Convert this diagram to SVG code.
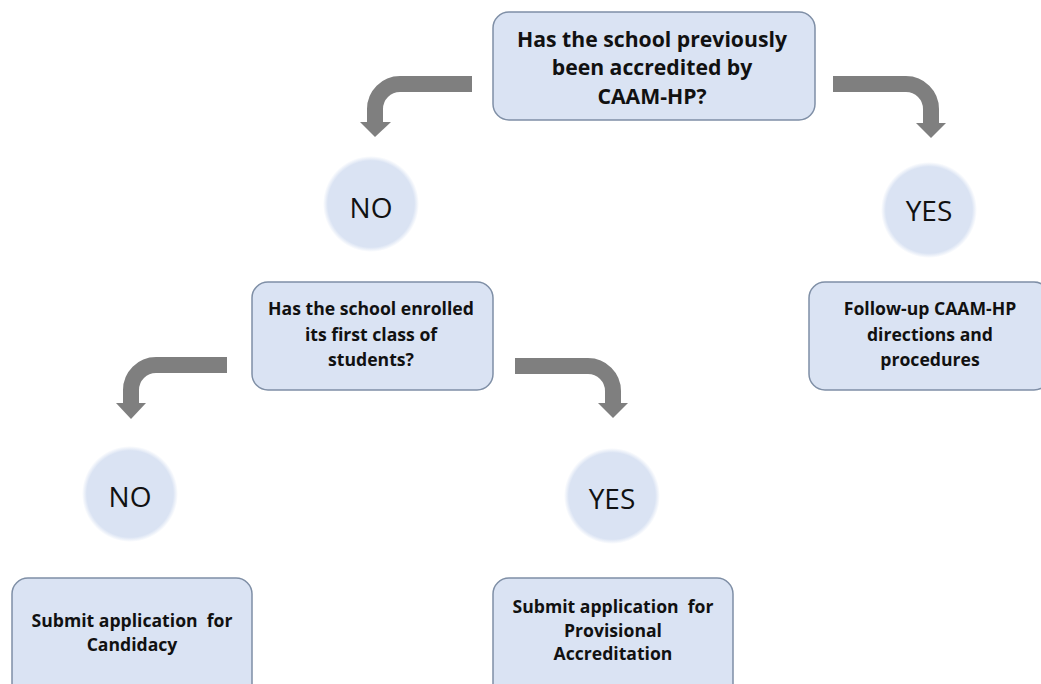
<svg xmlns="http://www.w3.org/2000/svg" width="1041" height="684" viewBox="0 0 1041 684">
<style>
.box{fill:#dae3f3;stroke:#7f8fa6;stroke-width:1.5}
.bt{font-family:"Open Sans","Liberation Sans",sans-serif;font-weight:700;fill:#111;text-anchor:middle}
.ct{font-family:"Open Sans","Liberation Sans",sans-serif;font-weight:400;fill:#111;text-anchor:middle;font-size:28px}
.arr{fill:none;stroke:#7f7f7f;stroke-width:16}
.head{fill:#7f7f7f}
</style>
<defs>
<radialGradient id="cg">
<stop offset="0" stop-color="#dae3f3"/>
<stop offset="0.9" stop-color="#dae3f3"/>
<stop offset="1" stop-color="#dae3f3" stop-opacity="0"/>
</radialGradient>
</defs>
<rect width="1041" height="684" fill="#fff"/>
<g id="connectors">
<path class="arr" d="M472 84 H400 A25 25 0 0 0 375 109 V123"/>
<polygon class="head" points="360,122 391,122 375,137"/>
<path class="arr" d="M833 84 H906 A25 25 0 0 1 931 109 V124"/>
<polygon class="head" points="916,123 946,123 931,138"/>
<path class="arr" d="M227 365 H156 A25 25 0 0 0 131 390 V404"/>
<polygon class="head" points="116,403 146,403 131,419"/>
<path class="arr" d="M515 366 H588 A25 25 0 0 1 613 391 V404"/>
<polygon class="head" points="598,403 628,403 613,418"/>
</g>
<g id="q1">
<rect class="box" x="493" y="12" width="322" height="108" rx="16"/>
<text class="bt" font-size="21.2" x="652" y="47">Has the school previously</text>
<text class="bt" font-size="21.2" x="652" y="75">been accredited by</text>
<text class="bt" font-size="21.2" x="652" y="104">CAAM-HP?</text>
</g>
<g id="no1">
<circle cx="371" cy="204" r="48" fill="url(#cg)"/>
<text class="ct" x="371" y="218">NO</text>
</g>
<g id="yes1">
<circle cx="929" cy="210" r="48" fill="url(#cg)"/>
<text class="ct" x="929" y="221">YES</text>
</g>
<g id="q2">
<rect class="box" x="252" y="282" width="241" height="108" rx="16"/>
<text class="bt" font-size="17.6" x="371" y="315">Has the school enrolled</text>
<text class="bt" font-size="17.6" x="371" y="341">its first class of</text>
<text class="bt" font-size="17.6" x="371" y="366">students?</text>
</g>
<g id="follow">
<rect class="box" x="809" y="282" width="241" height="108" rx="16"/>
<text class="bt" font-size="17.6" x="930" y="315">Follow-up CAAM-HP</text>
<text class="bt" font-size="17.6" x="930" y="341">directions and</text>
<text class="bt" font-size="17.6" x="930" y="366">procedures</text>
</g>
<g id="no2">
<circle cx="130" cy="494" r="48" fill="url(#cg)"/>
<text class="ct" x="130" y="507">NO</text>
</g>
<g id="yes2">
<circle cx="612" cy="496" r="48" fill="url(#cg)"/>
<text class="ct" x="612" y="509">YES</text>
</g>
<g id="candidacy">
<rect class="box" x="12" y="578" width="240" height="130" rx="16"/>
<text class="bt" font-size="17.6" x="132" y="627">Submit application&#160; for</text>
<text class="bt" font-size="17.6" x="132" y="651">Candidacy</text>
</g>
<g id="provisional">
<rect class="box" x="493" y="578" width="240" height="130" rx="16"/>
<text class="bt" font-size="17.6" x="613" y="613">Submit application&#160; for</text>
<text class="bt" font-size="17.6" x="613" y="637">Provisional</text>
<text class="bt" font-size="17.6" x="613" y="660">Accreditation</text>
</g>
</svg>
